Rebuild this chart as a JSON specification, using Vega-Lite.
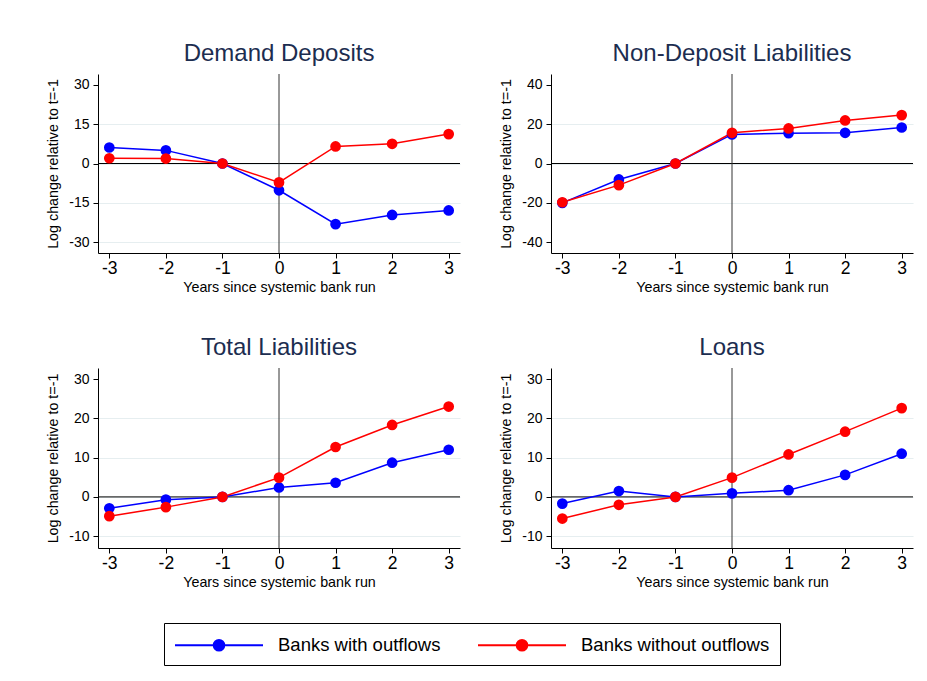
{
  "$schema": "https://vega.github.io/schema/vega-lite/v6.json",
  "background": "white",
  "padding": {"left": 46, "top": 41, "right": 5, "bottom": 5},
  "datasets": {
    "d": [
      {"panel": "Demand Deposits", "group": "Banks with outflows", "t": -3, "v": 6.1},
      {"panel": "Demand Deposits", "group": "Banks with outflows", "t": -2, "v": 5.0},
      {"panel": "Demand Deposits", "group": "Banks with outflows", "t": -1, "v": 0},
      {"panel": "Demand Deposits", "group": "Banks with outflows", "t": 0, "v": -10.2},
      {"panel": "Demand Deposits", "group": "Banks with outflows", "t": 1, "v": -23.1},
      {"panel": "Demand Deposits", "group": "Banks with outflows", "t": 2, "v": -19.6},
      {"panel": "Demand Deposits", "group": "Banks with outflows", "t": 3, "v": -17.9},
      {"panel": "Demand Deposits", "group": "Banks without outflows", "t": -3, "v": 2.0},
      {"panel": "Demand Deposits", "group": "Banks without outflows", "t": -2, "v": 1.9},
      {"panel": "Demand Deposits", "group": "Banks without outflows", "t": -1, "v": 0},
      {"panel": "Demand Deposits", "group": "Banks without outflows", "t": 0, "v": -7.2},
      {"panel": "Demand Deposits", "group": "Banks without outflows", "t": 1, "v": 6.5},
      {"panel": "Demand Deposits", "group": "Banks without outflows", "t": 2, "v": 7.5},
      {"panel": "Demand Deposits", "group": "Banks without outflows", "t": 3, "v": 11.2},
      {"panel": "Non-Deposit Liabilities", "group": "Banks with outflows", "t": -3, "v": -20.0},
      {"panel": "Non-Deposit Liabilities", "group": "Banks with outflows", "t": -2, "v": -8.1},
      {"panel": "Non-Deposit Liabilities", "group": "Banks with outflows", "t": -1, "v": 0},
      {"panel": "Non-Deposit Liabilities", "group": "Banks with outflows", "t": 0, "v": 14.8},
      {"panel": "Non-Deposit Liabilities", "group": "Banks with outflows", "t": 1, "v": 15.4},
      {"panel": "Non-Deposit Liabilities", "group": "Banks with outflows", "t": 2, "v": 15.6},
      {"panel": "Non-Deposit Liabilities", "group": "Banks with outflows", "t": 3, "v": 18.3},
      {"panel": "Non-Deposit Liabilities", "group": "Banks without outflows", "t": -3, "v": -19.7},
      {"panel": "Non-Deposit Liabilities", "group": "Banks without outflows", "t": -2, "v": -11.0},
      {"panel": "Non-Deposit Liabilities", "group": "Banks without outflows", "t": -1, "v": 0},
      {"panel": "Non-Deposit Liabilities", "group": "Banks without outflows", "t": 0, "v": 15.6},
      {"panel": "Non-Deposit Liabilities", "group": "Banks without outflows", "t": 1, "v": 17.8},
      {"panel": "Non-Deposit Liabilities", "group": "Banks without outflows", "t": 2, "v": 21.9},
      {"panel": "Non-Deposit Liabilities", "group": "Banks without outflows", "t": 3, "v": 24.6},
      {"panel": "Total Liabilities", "group": "Banks with outflows", "t": -3, "v": -2.9},
      {"panel": "Total Liabilities", "group": "Banks with outflows", "t": -2, "v": -0.7},
      {"panel": "Total Liabilities", "group": "Banks with outflows", "t": -1, "v": 0},
      {"panel": "Total Liabilities", "group": "Banks with outflows", "t": 0, "v": 2.4},
      {"panel": "Total Liabilities", "group": "Banks with outflows", "t": 1, "v": 3.6},
      {"panel": "Total Liabilities", "group": "Banks with outflows", "t": 2, "v": 8.7},
      {"panel": "Total Liabilities", "group": "Banks with outflows", "t": 3, "v": 12.0},
      {"panel": "Total Liabilities", "group": "Banks without outflows", "t": -3, "v": -4.9},
      {"panel": "Total Liabilities", "group": "Banks without outflows", "t": -2, "v": -2.6},
      {"panel": "Total Liabilities", "group": "Banks without outflows", "t": -1, "v": 0},
      {"panel": "Total Liabilities", "group": "Banks without outflows", "t": 0, "v": 4.9},
      {"panel": "Total Liabilities", "group": "Banks without outflows", "t": 1, "v": 12.7},
      {"panel": "Total Liabilities", "group": "Banks without outflows", "t": 2, "v": 18.3},
      {"panel": "Total Liabilities", "group": "Banks without outflows", "t": 3, "v": 23.0},
      {"panel": "Loans", "group": "Banks with outflows", "t": -3, "v": -1.7},
      {"panel": "Loans", "group": "Banks with outflows", "t": -2, "v": 1.5},
      {"panel": "Loans", "group": "Banks with outflows", "t": -1, "v": 0},
      {"panel": "Loans", "group": "Banks with outflows", "t": 0, "v": 0.9},
      {"panel": "Loans", "group": "Banks with outflows", "t": 1, "v": 1.7},
      {"panel": "Loans", "group": "Banks with outflows", "t": 2, "v": 5.6},
      {"panel": "Loans", "group": "Banks with outflows", "t": 3, "v": 11.0},
      {"panel": "Loans", "group": "Banks without outflows", "t": -3, "v": -5.5},
      {"panel": "Loans", "group": "Banks without outflows", "t": -2, "v": -2.0},
      {"panel": "Loans", "group": "Banks without outflows", "t": -1, "v": 0},
      {"panel": "Loans", "group": "Banks without outflows", "t": 0, "v": 4.9},
      {"panel": "Loans", "group": "Banks without outflows", "t": 1, "v": 10.8},
      {"panel": "Loans", "group": "Banks without outflows", "t": 2, "v": 16.6},
      {"panel": "Loans", "group": "Banks without outflows", "t": 3, "v": 22.6}
    ]
  },
  "bounds": "flush",
  "columns": 2,
  "spacing": {"row": 115, "column": 91},
  "concat": [
    {
      "width": 362, "height": 179,
      "title": "Demand Deposits",
      "layer": [
        {"data": {"values": [{}]}, "mark": {"type": "rule", "color": "#000", "strokeWidth": 1},
         "encoding": {"y": {"datum": 0, "type": "quantitative", "scale": {"domain": [-34.1, 34.1], "nice": false, "zero": false}}}},
        {"data": {"values": [{}]}, "mark": {"type": "rule", "color": "#333", "strokeWidth": 1},
         "encoding": {"x": {"datum": 0, "type": "quantitative", "scale": {"domain": [-3.2, 3.2], "nice": false, "zero": false}}}},
        {"data": {"name": "d"}, "transform": [{"filter": "datum.panel === 'Demand Deposits'"}],
         "mark": {"type": "line", "strokeWidth": 1.5},
         "encoding": {
           "x": {"field": "t", "type": "quantitative", "scale": {"domain": [-3.2, 3.2], "nice": false, "zero": false},
                 "axis": {"values": [-3, -2, -1, 0, 1, 2, 3], "title": "Years since systemic bank run"}},
           "y": {"field": "v", "type": "quantitative", "scale": {"domain": [-34.1, 34.1], "nice": false, "zero": false},
                 "axis": {"values": [-30, -15, 0, 15, 30], "title": "Log change relative to t=-1", "grid": true,
                          "gridOpacity": {"condition": {"test": "datum.value === 30", "value": 0}, "value": 1}}},
           "color": {"field": "group", "type": "nominal", "scale": {"domain": ["Banks with outflows", "Banks without outflows"], "range": ["#0000ff", "#ff0000"]}, "legend": {"title": null}}
         }},
        {"data": {"name": "d"}, "transform": [{"filter": "datum.panel === 'Demand Deposits'"}],
         "mark": {"type": "point", "filled": true, "size": 115, "opacity": 1},
         "encoding": {
           "x": {"field": "t", "type": "quantitative"},
           "y": {"field": "v", "type": "quantitative"},
           "color": {"field": "group", "type": "nominal", "legend": {"title": null}}
         }}
      ]
    },
    {
      "width": 362, "height": 179,
      "title": "Non-Deposit Liabilities",
      "layer": [
        {"data": {"values": [{}]}, "mark": {"type": "rule", "color": "#000", "strokeWidth": 1},
         "encoding": {"y": {"datum": 0, "type": "quantitative", "scale": {"domain": [-45.5, 45.5], "nice": false, "zero": false}}}},
        {"data": {"values": [{}]}, "mark": {"type": "rule", "color": "#333", "strokeWidth": 1},
         "encoding": {"x": {"datum": 0, "type": "quantitative", "scale": {"domain": [-3.2, 3.2], "nice": false, "zero": false}}}},
        {"data": {"name": "d"}, "transform": [{"filter": "datum.panel === 'Non-Deposit Liabilities'"}],
         "mark": {"type": "line", "strokeWidth": 1.5},
         "encoding": {
           "x": {"field": "t", "type": "quantitative", "scale": {"domain": [-3.2, 3.2], "nice": false, "zero": false},
                 "axis": {"values": [-3, -2, -1, 0, 1, 2, 3], "title": "Years since systemic bank run"}},
           "y": {"field": "v", "type": "quantitative", "scale": {"domain": [-45.5, 45.5], "nice": false, "zero": false},
                 "axis": {"values": [-40, -20, 0, 20, 40], "title": "Log change relative to t=-1", "grid": true,
                          "gridOpacity": {"condition": {"test": "abs(datum.value) === 40", "value": 0}, "value": 1}}},
           "color": {"field": "group", "type": "nominal", "legend": {"title": null}}
         }},
        {"data": {"name": "d"}, "transform": [{"filter": "datum.panel === 'Non-Deposit Liabilities'"}],
         "mark": {"type": "point", "filled": true, "size": 115, "opacity": 1},
         "encoding": {
           "x": {"field": "t", "type": "quantitative"},
           "y": {"field": "v", "type": "quantitative"},
           "color": {"field": "group", "type": "nominal", "legend": {"title": null}}
         }}
      ]
    },
    {
      "width": 362, "height": 180,
      "title": "Total Liabilities",
      "layer": [
        {"data": {"values": [{}]}, "mark": {"type": "rule", "color": "#000", "strokeWidth": 1},
         "encoding": {"y": {"datum": 0, "type": "quantitative", "scale": {"domain": [-13, 32.8], "nice": false, "zero": false}}}},
        {"data": {"values": [{}]}, "mark": {"type": "rule", "color": "#333", "strokeWidth": 1},
         "encoding": {"x": {"datum": 0, "type": "quantitative", "scale": {"domain": [-3.2, 3.2], "nice": false, "zero": false}}}},
        {"data": {"name": "d"}, "transform": [{"filter": "datum.panel === 'Total Liabilities'"}],
         "mark": {"type": "line", "strokeWidth": 1.5},
         "encoding": {
           "x": {"field": "t", "type": "quantitative", "scale": {"domain": [-3.2, 3.2], "nice": false, "zero": false},
                 "axis": {"values": [-3, -2, -1, 0, 1, 2, 3], "title": "Years since systemic bank run"}},
           "y": {"field": "v", "type": "quantitative", "scale": {"domain": [-13, 32.8], "nice": false, "zero": false},
                 "axis": {"values": [-10, 0, 10, 20, 30], "title": "Log change relative to t=-1", "grid": true,
                          "gridOpacity": {"condition": {"test": "datum.value === 30", "value": 0}, "value": 1}}},
           "color": {"field": "group", "type": "nominal", "legend": {"title": null}}
         }},
        {"data": {"name": "d"}, "transform": [{"filter": "datum.panel === 'Total Liabilities'"}],
         "mark": {"type": "point", "filled": true, "size": 115, "opacity": 1},
         "encoding": {
           "x": {"field": "t", "type": "quantitative"},
           "y": {"field": "v", "type": "quantitative"},
           "color": {"field": "group", "type": "nominal", "legend": {"title": null}}
         }}
      ]
    },
    {
      "width": 362, "height": 180,
      "title": "Loans",
      "layer": [
        {"data": {"values": [{}]}, "mark": {"type": "rule", "color": "#000", "strokeWidth": 1},
         "encoding": {"y": {"datum": 0, "type": "quantitative", "scale": {"domain": [-13, 32.8], "nice": false, "zero": false}}}},
        {"data": {"values": [{}]}, "mark": {"type": "rule", "color": "#333", "strokeWidth": 1},
         "encoding": {"x": {"datum": 0, "type": "quantitative", "scale": {"domain": [-3.2, 3.2], "nice": false, "zero": false}}}},
        {"data": {"name": "d"}, "transform": [{"filter": "datum.panel === 'Loans'"}],
         "mark": {"type": "line", "strokeWidth": 1.5},
         "encoding": {
           "x": {"field": "t", "type": "quantitative", "scale": {"domain": [-3.2, 3.2], "nice": false, "zero": false},
                 "axis": {"values": [-3, -2, -1, 0, 1, 2, 3], "title": "Years since systemic bank run"}},
           "y": {"field": "v", "type": "quantitative", "scale": {"domain": [-13, 32.8], "nice": false, "zero": false},
                 "axis": {"values": [-10, 0, 10, 20, 30], "title": "Log change relative to t=-1", "grid": true,
                          "gridOpacity": {"condition": {"test": "datum.value === 30", "value": 0}, "value": 1}}},
           "color": {"field": "group", "type": "nominal", "legend": {"title": null}}
         }},
        {"data": {"name": "d"}, "transform": [{"filter": "datum.panel === 'Loans'"}],
         "mark": {"type": "point", "filled": true, "size": 115, "opacity": 1},
         "encoding": {
           "x": {"field": "t", "type": "quantitative"},
           "y": {"field": "v", "type": "quantitative"},
           "color": {"field": "group", "type": "nominal", "legend": {"title": null}}
         }}
      ]
    }
  ],
  "config": {
    "font": "Liberation Sans",
    "view": {"stroke": null},
    "title": {"font": "Liberation Sans", "fontSize": 24, "fontWeight": "normal", "color": "#1c2d50", "anchor": "middle", "offset": 8},
    "axis": {
      "domainColor": "#000", "tickColor": "#000", "labelColor": "#000", "titleColor": "#000",
      "labelFont": "Liberation Sans", "titleFont": "Liberation Sans", "titleFontWeight": "normal",
      "tickSize": 5, "gridColor": "#e6eef0", "gridWidth": 1.2, "labelExpr": "'' + datum.value"
    },
    "axisX": {"labelFontSize": 17.5, "titleFontSize": 14.3, "labelPadding": 1, "titlePadding": 4, "grid": false},
    "axisY": {"labelFontSize": 14, "titleFontSize": 14.3, "labelPadding": 4, "titlePadding": 8},
    "legend": {
      "orient": "none", "legendX": 66, "legendY": 549, "direction": "horizontal",
      "strokeColor": "#000", "fillColor": "#fff", "padding": 10,
      "labelFont": "Liberation Sans", "labelFontSize": 18.5, "labelColor": "#000", "labelLimit": 400,
      "labelOffset": 80, "columnPadding": 33,
      "symbolType": "M-1,0L7,0M3.48,0A0.48,0.48,0,1,1,2.52,0A0.48,0.48,0,1,1,3.48,0Z",
      "symbolSize": 484, "symbolStrokeWidth": 2, "symbolOpacity": 1
    }
  }
}
